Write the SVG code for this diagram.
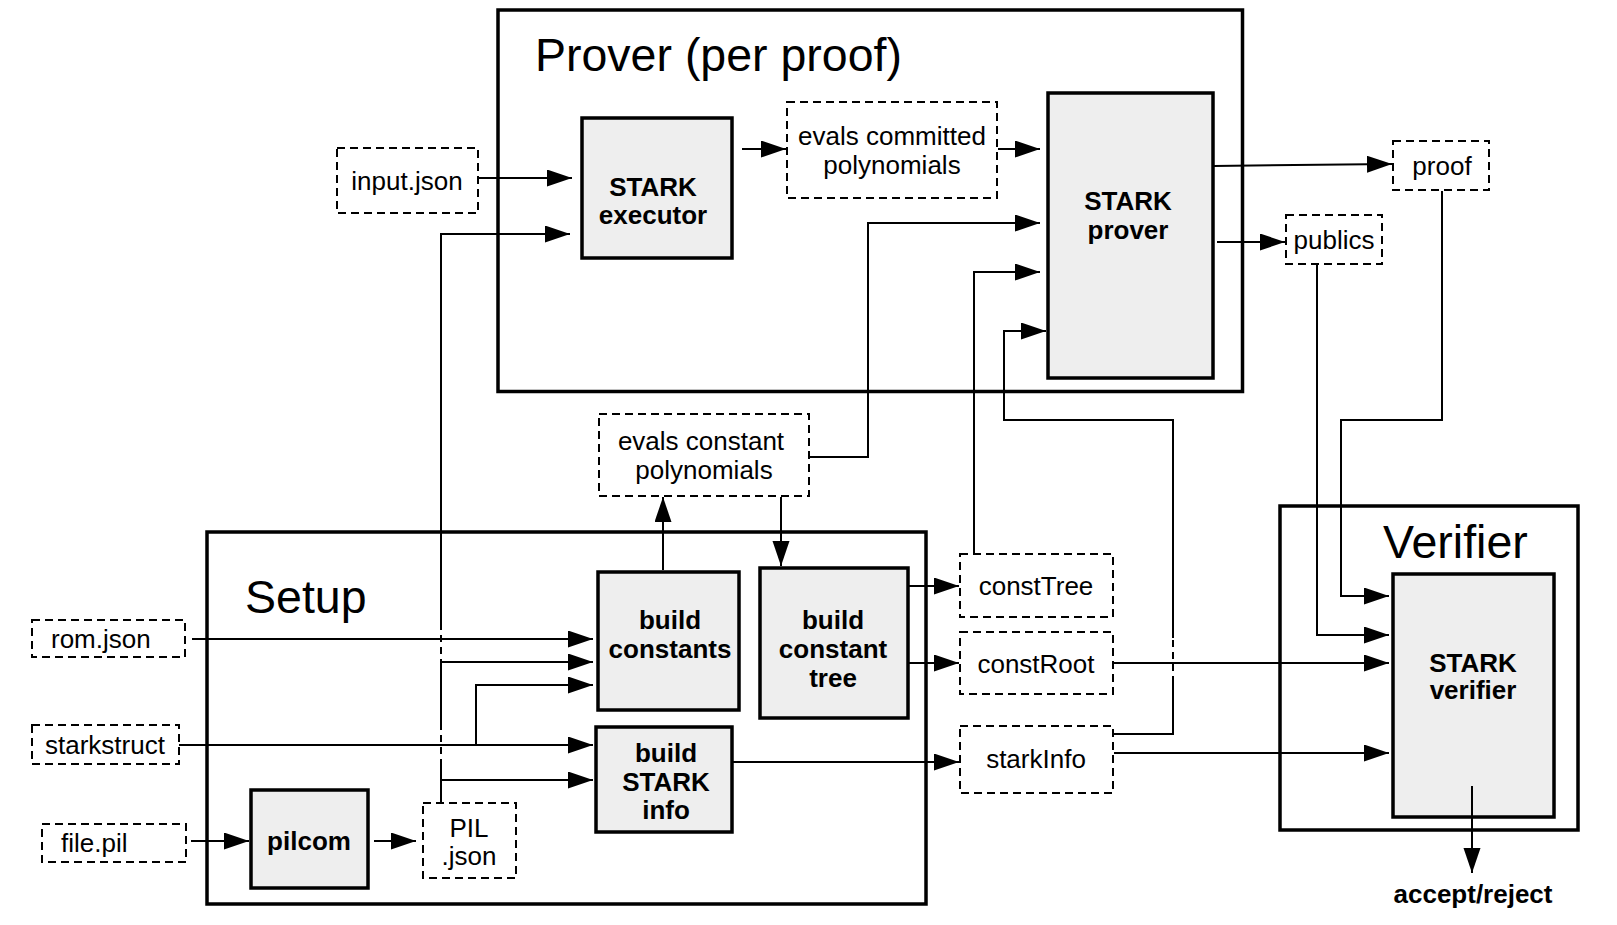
<svg xmlns="http://www.w3.org/2000/svg" width="1617" height="925" viewBox="0 0 1617 925">
<style>
text{font-family:"Liberation Sans",Arial,sans-serif;fill:#000}
.t{font-size:46.5px}
.r{font-size:26px;text-anchor:middle}
.rl{font-size:26px}
.b{font-size:26px;font-weight:bold;text-anchor:middle}
.outer{fill:none;stroke:#000;stroke-width:3.5}
.proc{fill:#eeeeee;stroke:#000;stroke-width:3.5}
.data{fill:#fff;stroke:#000;stroke-width:2;stroke-dasharray:8,5}
.c{fill:none;stroke:#000;stroke-width:2}
.c.a{marker-end:url(#arr)}
.d{fill:none;stroke:#000;stroke-width:2;stroke-dasharray:7,5}
</style>
<defs>
<marker id="arr" markerWidth="26" markerHeight="18" refX="25" refY="8.5" orient="auto" markerUnits="userSpaceOnUse"><path d="M0,0 L25,8.5 L0,17 z" fill="#000"/></marker>
</defs>
<rect width="1617" height="925" fill="#fff"/>

<g id="prover-group">
<rect class="outer" x="498" y="10" width="744.5" height="381.5"/>
<text class="t" x="535" y="71">Prover (per proof)</text>
</g>
<g id="setup-group">
<rect class="outer" x="207" y="532" width="719" height="372"/>
<text class="t" x="245" y="613">Setup</text>
</g>
<g id="verifier-group">
<rect class="outer" x="1280" y="506" width="298" height="324"/>
<text class="t" x="1383" y="558">Verifier</text>
</g>

<g id="input-json"><rect class="data" x="337" y="148" width="141" height="65"/><text class="r" x="407" y="190">input.json</text></g>
<g id="stark-executor"><rect class="proc" x="582" y="118" width="150" height="140"/><text class="b" x="653" y="196">STARK</text><text class="b" x="653" y="224">executor</text></g>
<g id="evals-committed"><rect class="data" x="787" y="102" width="210" height="96"/><text class="r" x="892" y="145">evals committed</text><text class="r" x="892" y="174">polynomials</text></g>
<g id="stark-prover"><rect class="proc" x="1048" y="93" width="165" height="285"/><text class="b" x="1128" y="210">STARK</text><text class="b" x="1128" y="239">prover</text></g>
<g id="proof"><rect class="data" x="1393" y="141" width="96" height="49"/><text class="r" x="1442" y="175">proof</text></g>
<g id="publics"><rect class="data" x="1286" y="215" width="96" height="49"/><text class="r" x="1334" y="249">publics</text></g>
<g id="evals-constant"><rect class="data" x="599" y="414" width="210" height="82"/><text class="r" x="701" y="450">evals constant</text><text class="r" x="704" y="479">polynomials</text></g>
<g id="rom-json"><rect class="data" x="32" y="620" width="153" height="37"/><text class="rl" x="51" y="648">rom.json</text></g>
<g id="starkstruct"><rect class="data" x="32" y="725" width="147" height="39"/><text class="rl" x="45" y="754">starkstruct</text></g>
<g id="file-pil"><rect class="data" x="42" y="824" width="144" height="38"/><text class="rl" x="61" y="852">file.pil</text></g>
<g id="pilcom"><rect class="proc" x="251" y="790" width="117" height="98"/><text class="b" x="309" y="850">pilcom</text></g>
<g id="pil-json"><rect class="data" x="423" y="803" width="93" height="75"/><text class="r" x="469" y="837">PIL</text><text class="r" x="469" y="865">.json</text></g>
<g id="build-constants"><rect class="proc" x="598" y="572" width="141" height="138"/><text class="b" x="670" y="629">build</text><text class="b" x="670" y="658">constants</text></g>
<g id="build-constant-tree"><rect class="proc" x="760" y="568" width="148" height="150"/><text class="b" x="833" y="629">build</text><text class="b" x="833" y="658">constant</text><text class="b" x="833" y="687">tree</text></g>
<g id="build-stark-info"><rect class="proc" x="596" y="727" width="136" height="105"/><text class="b" x="666" y="762">build</text><text class="b" x="666" y="791">STARK</text><text class="b" x="666" y="819">info</text></g>
<g id="const-tree"><rect class="data" x="960" y="554" width="153" height="63"/><text class="r" x="1036" y="595">constTree</text></g>
<g id="const-root"><rect class="data" x="960" y="632" width="153" height="62"/><text class="r" x="1036" y="673">constRoot</text></g>
<g id="stark-info"><rect class="data" x="960" y="726" width="153" height="67"/><text class="r" x="1036" y="768">starkInfo</text></g>
<g id="stark-verifier"><rect class="proc" x="1393" y="574" width="161" height="243"/><text class="b" x="1473" y="672">STARK</text><text class="b" x="1473" y="699">verifier</text></g>
<g id="accept-reject"><text class="b" x="1473" y="903">accept/reject</text></g>

<g id="connectors">
<path class="c a" d="M478,178 L572,178"/>
<path class="c a" d="M441,623 L441,234 L570,234"/>
<path class="d" d="M441,623 L441,662"/>
<path class="c" d="M441,662 L441,723"/>
<path class="d" d="M441,723 L441,762"/>
<path class="c" d="M441,762 L441,802"/>
<path class="c a" d="M441,662 L593,662"/>
<path class="c a" d="M441,780 L593,780"/>
<path class="c a" d="M742,149 L786,149"/>
<path class="c a" d="M998,149 L1040,149"/>
<path class="c a" d="M810,457 L868,457 L868,223 L1040,223"/>
<path class="c a" d="M663,570 L663,497"/>
<path class="c a" d="M781,497 L781,566"/>
<path class="c a" d="M909,586 L959,586"/>
<path class="c a" d="M909,663 L959,663"/>
<path class="c a" d="M733,762 L959,762"/>
<path class="c a" d="M974,553 L974,272 L1040,272"/>
<path class="c" d="M1114,734 L1173,734 L1173,683"/>
<path class="d" d="M1173,683 L1173,638"/>
<path class="c a" d="M1173,638 L1173,420 L1004,420 L1004,331 L1046,331"/>
<path class="c a" d="M1114,663 L1389,663"/>
<path class="c a" d="M1114,753 L1389,753"/>
<path class="c a" d="M1214,166 L1392,164"/>
<path class="c a" d="M1217,242 L1285,242"/>
<path class="c a" d="M1442,191 L1442,420 L1341,420 L1341,596 L1389,596"/>
<path class="c a" d="M1317,265 L1317,635 L1389,635"/>
<path class="c a" d="M192,639 L593,639"/>
<path class="c a" d="M179,745 L593,745"/>
<path class="c a" d="M476,745 L476,685 L593,685"/>
<path class="c a" d="M191,841 L249,841"/>
<path class="c a" d="M374,841 L416,841"/>
<path class="c a" d="M1472,786 L1472,873"/>
</g>
</svg>
